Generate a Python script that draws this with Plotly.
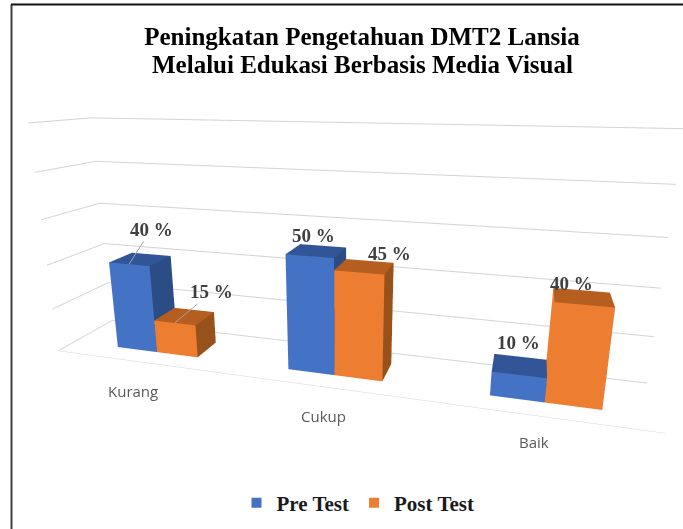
import plotly.graph_objects as go

categories = ["Kurang", "Cukup", "Baik"]
pre_test = [40, 50, 10]
post_test = [15, 45, 40]
series_names = ["Pre Test", "Post Test"]
colors = ["#4472C4", "#ED7D31"]
grid_ticks = [0, 20, 40, 60, 80, 100]

W, H = 683, 529
BAR_W = 0.244
BAR_D = 0.217
X_SHIFT = -0.022
FACE_I = [0, 0, 4, 4, 0, 0, 1, 1, 2, 2, 3, 3]
FACE_J = [1, 2, 5, 6, 1, 5, 2, 6, 3, 7, 0, 4]
FACE_K = [2, 3, 6, 7, 5, 4, 6, 5, 7, 6, 4, 7]


def shades(c, top, side):
    return [c, c, top, top, c, c, side, side, c, c, c, c]


style = [("#4472C4", "#325597", "#2C4C85"), ("#ED7D31", "#B55E20", "#97521C")]
# label offsets in pixels: (series, category) -> dx, dy, leader line
label_offset = {
    (0, 0): (22, -35, True), (1, 0): (37, -31, True),
    (0, 1): (-3, -15, False), (1, 1): (25, -13, False),
    (0, 2): (-1, -23, False), (1, 2): (-11, -14, False),
}
tick_shift = [(-10, -29), (-3, -29), (-11, -25)]

fig = go.Figure()
scene_notes = []
for s, vals in enumerate([pre_test, post_test]):
    for c, v in enumerate(vals):
        x0 = c + (s - 1) * BAR_W
        x1 = x0 + BAR_W
        y0, y1 = -BAR_D, BAR_D
        front, top, side = style[s]
        fig.add_trace(go.Mesh3d(
            x=[x0, x1, x1, x0, x0, x1, x1, x0],
            y=[y0, y0, y1, y1, y0, y0, y1, y1],
            z=[0, 0, 0, 0, v, v, v, v],
            i=FACE_I, j=FACE_J, k=FACE_K,
            facecolor=shades(front, top, side),
            flatshading=True,
            lighting=dict(ambient=1, diffuse=0, specular=0, roughness=1, fresnel=0),
            hoverinfo="skip", showlegend=False, showscale=False,
        ))
        dx, dy, leader = label_offset[(s, c)]
        note = dict(x=(x0 + x1) / 2, y=-BAR_D if leader else 0, z=v, text=f"<b>{v} %</b>",
                    font=dict(family="Liberation Serif", size=19, color="#404040"))
        if leader:
            note.update(showarrow=True, arrowhead=0, arrowwidth=1, arrowcolor="#A6A6A6", ax=dx, ay=dy)
        else:
            note.update(showarrow=False, xshift=dx, yshift=-dy)
        scene_notes.append(note)

for c, name in enumerate(categories):
    scene_notes.append(dict(x=c, y=-0.5, z=0, text=name, showarrow=False,
                            xshift=tick_shift[c][0], yshift=tick_shift[c][1],
                            font=dict(family="Open Sans", size=15, color="#595959")))

for name, col in zip(series_names, colors):
    fig.add_trace(go.Scatter3d(
        x=[None], y=[None], z=[None], mode="markers", name=f"<b>{name}</b>",
        marker=dict(symbol="square", size=10, color=col),
    ))

axis_common = dict(showbackground=False, showspikes=False, zeroline=False, title="")
frame = dict(type="line", xref="paper", yref="paper")
fig.update_layout(
    width=W, height=H,
    margin=dict(l=0, r=0, t=0, b=0, autoexpand=False),
    paper_bgcolor="white",
    title=dict(
        text="<b>Peningkatan Pengetahuan DMT2 Lansia</b>",
        font=dict(family="Liberation Serif", size=25, color="black"),
        x=362 / W, xanchor="center", y=1 - 36 / H, yanchor="middle",
    ),
    annotations=[dict(
        text="<b>Melalui Edukasi Berbasis Media Visual</b>", showarrow=False,
        xref="paper", yref="paper", x=362 / W, y=1 - 65 / H, xanchor="center", yanchor="middle",
        font=dict(family="Liberation Serif", size=25, color="black"),
    )],
    shapes=[
        dict(frame, x0=11.5 / W, x1=11.5 / W, y0=0, y1=1 - 4.5 / H, line=dict(color="#404040", width=2)),
        dict(frame, x0=11 / W, x1=1, y0=1 - 4.5 / H, y1=1 - 4.5 / H, line=dict(color="#111111", width=2)),
    ],
    legend=dict(
        orientation="h", x=358 / W, xanchor="center", y=1 - 503 / H, yanchor="middle",
        font=dict(family="Liberation Serif", size=21, color="#1a1a1a"),
    ),
    scene=dict(
        domain=dict(x=[0, 1], y=[0, 1]),
        annotations=scene_notes,
        xaxis=dict(axis_common, tickvals=[0, 1, 2], showticklabels=False,
                   range=[-0.5 + X_SHIFT, 2.5 + X_SHIFT], showgrid=False, showline=True, linecolor="#D4D4D4"),
        yaxis=dict(axis_common, range=[-0.5, 0.5], showgrid=False, showticklabels=False, showline=False),
        zaxis=dict(axis_common, range=[0, 100], tickvals=grid_ticks, showticklabels=False,
                   showgrid=True, gridcolor="#D4D4D4", gridwidth=2),
        aspectmode="manual", aspectratio=dict(x=2.5, y=0.398, z=1.006),
        camera=dict(eye=dict(x=0.725, y=-2.396, z=0.668),
                    center=dict(x=0.552, y=-1.805, z=0.491),
                    up=dict(x=0, y=0, z=1), projection=dict(type="perspective")),
    ),
)
fig.write_html("out.html", config=dict(displayModeBar=False),
               post_script="document.body.style.margin='0';")
